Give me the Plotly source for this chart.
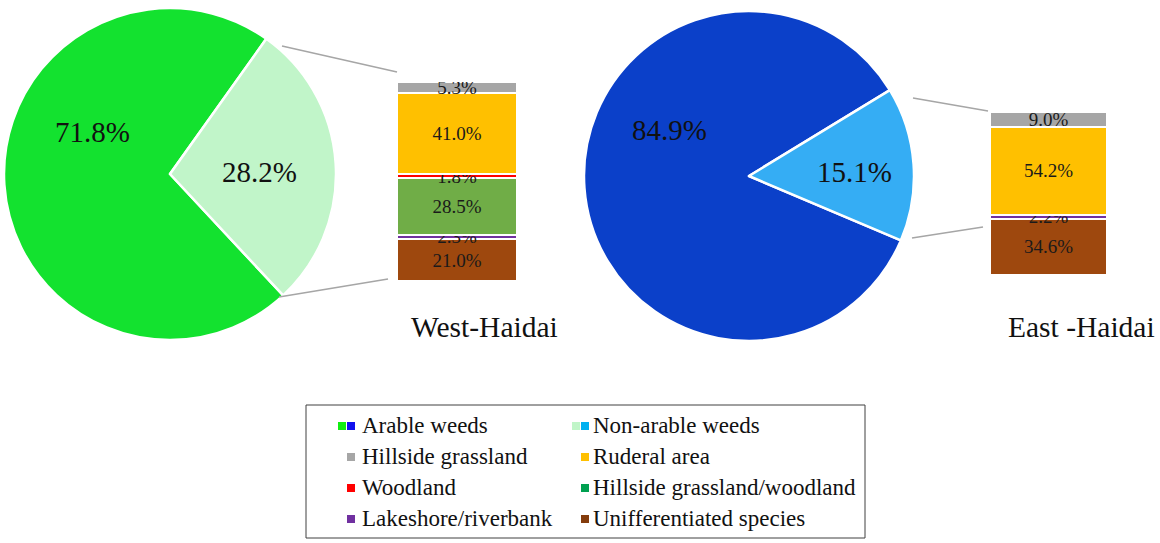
import plotly.graph_objects as pGraph

# pie shares (%)
pie_labels = ['Arable weeds', 'Non-arable weeds']
west_pie = [71.8, 28.2]
east_pie = [84.9, 15.1]

# breakdown of non-arable weeds, bottom -> top of the bar
west_cats = ['Unifferentiated species', 'Lakeshore/riverbank', 'Hillside grassland/woodland',
             'Woodland', 'Ruderal area', 'Hillside grassland']
west_vals = [21.0, 2.3, 28.5, 1.8, 41.0, 5.3]
east_cats = ['Unifferentiated species', 'Lakeshore/riverbank', 'Ruderal area', 'Hillside grassland']
east_vals = [34.6, 2.2, 54.2, 9.0]

legend_names = ['Arable weeds', 'Non-arable weeds', 'Hillside grassland', 'Ruderal area',
                'Woodland', 'Hillside grassland/woodland', 'Lakeshore/riverbank',
                'Unifferentiated species']

cat_colors = {
    'Hillside grassland': '#A6A6A6',
    'Ruderal area': '#FFC000',
    'Woodland': '#FF0000',
    'Hillside grassland/woodland': '#70AD47',
    'Lakeshore/riverbank': '#7030A0',
    'Unifferentiated species': '#9E480E',
}
west_pie_colors = ['#13E22F', '#C1F5C9']
east_pie_colors = ['#0B40C9', '#35ADF4']
legend_colors = [['#11EE11', '#1111EE'], ['#C0F5C8', '#00B0F0'], ['#A6A6A6'], ['#FFC000'],
                 ['#FF0000'], ['#00A050'], ['#7030A0'], ['#843C0C']]

W, H = 1160, 543
FONT = 'Liberation Serif'


def px(x):
    return x / W


def py(y):
    return 1 - y / H


fig = pGraph.Figure()

# pies
for vals, cols, dom, rot in [(west_pie, west_pie_colors, ([4, 336], [8, 340]), 137),
                             (east_pie, east_pie_colors, ([584, 914], [11, 341]), 113)]:
    fig.add_trace(pGraph.Pie(
        labels=pie_labels, values=vals, sort=False, direction='clockwise', rotation=rot,
        marker=dict(colors=cols, line=dict(color='white', width=2.5)),
        textinfo='none', hoverinfo='label+percent', showlegend=False,
        domain=dict(x=[px(dom[0][0]), px(dom[0][1])], y=[py(dom[1][1]), py(dom[1][0])]),
    ))

# stacked bars
for cats, vals, ax, dom in [(west_cats, west_vals, '', ([397, 517], [82, 281])),
                            (east_cats, east_vals, '2', ([990, 1107], [112, 275]))]:
    for c, v in zip(cats, vals):
        fig.add_trace(pGraph.Bar(
            x=[0], y=[v], width=1, name=c, showlegend=False,
            marker=dict(color=cat_colors[c], line=dict(color='white', width=2)),
            text=[f'{v:.1f}%'], textposition='inside', insidetextanchor='middle',
            constraintext='none', textangle=0,
            insidetextfont=dict(family=FONT, size=19, color='#1a1a1a'),
            xaxis='x' + ax, yaxis='y' + ax,
        ))
    fig.update_layout(**{
        'xaxis' + ax: dict(domain=[px(dom[0][0]), px(dom[0][1])], range=[-0.5, 0.5], visible=False),
        'yaxis' + ax: dict(domain=[py(dom[1][1]), py(dom[1][0])], range=[0, sum(vals)], visible=False),
    })

# custom legend (two colour squares for the pie categories)
col_sq = [[342, 351], [576, 585]]
col_txt = [362, 593]
row_y = [427, 458, 489, 520]
mx, my, mc = [], [], []
tx, ty = [], []
for i, (name, cols) in enumerate(zip(legend_names, legend_colors)):
    c, r = i % 2, i // 2
    xs = col_sq[c] if len(cols) == 2 else [col_sq[c][1]]
    for xx, cc in zip(xs, cols):
        mx.append(xx); my.append(row_y[r] - 1); mc.append(cc)
    tx.append(col_txt[c]); ty.append(row_y[r])
fig.add_trace(pGraph.Scatter(x=mx, y=my, mode='markers', showlegend=False, hoverinfo='skip',
                             marker=dict(symbol='square', size=8, color=mc),
                             xaxis='x3', yaxis='y3'))
fig.add_trace(pGraph.Scatter(x=tx, y=ty, mode='text', text=legend_names, textposition='middle right',
                             textfont=dict(family=FONT, size=23, color='#111'), showlegend=False,
                             hoverinfo='skip', xaxis='x3', yaxis='y3'))
fig.update_layout(
    xaxis3=dict(domain=[0, 1], range=[0, W], visible=False),
    yaxis3=dict(domain=[0, 1], range=[H, 0], visible=False),
)

shapes = [
    dict(type='rect', xref='paper', yref='paper', x0=px(306), x1=px(865), y0=py(538), y1=py(405),
         line=dict(color='#404040', width=1)),
]
for x0, y0, x1, y1 in [(282, 46, 397, 72), (279, 297, 388, 279), (913, 98, 988, 111), (912, 238, 983, 227)]:
    shapes.append(dict(type='line', xref='paper', yref='paper', x0=px(x0), y0=py(y0), x1=px(x1), y1=py(y1),
                       line=dict(color='#A6A6A6', width=1.5)))

annos = []
for txt, x, y in [(f'{west_pie[0]:.1f}%', 93, 132), (f'{west_pie[1]:.1f}%', 259, 172),
                  (f'{east_pie[0]:.1f}%', 669, 130), (f'{east_pie[1]:.1f}%', 854, 172)]:
    annos.append(dict(text=txt, x=px(x), y=py(y), xref='paper', yref='paper', showarrow=False,
                      xanchor='center', yanchor='middle',
                      font=dict(family=FONT, size=29, color='#111')))
for txt, x, y in [('West-Haidai', 484, 327), ('East -Haidai', 1081, 327)]:
    annos.append(dict(text=txt, x=px(x), y=py(y), xref='paper', yref='paper', showarrow=False,
                      xanchor='center', yanchor='middle',
                      font=dict(family=FONT, size=29.5, color='#111')))

fig.update_layout(
    barmode='stack', width=W, height=H, margin=dict(l=0, r=0, t=0, b=0),
    paper_bgcolor='white', plot_bgcolor='rgba(0,0,0,0)', showlegend=False,
    shapes=shapes, annotations=annos,
)

fig.write_html('out.html', config={'displayModeBar': False},
               post_script="document.body.style.margin='0';")
